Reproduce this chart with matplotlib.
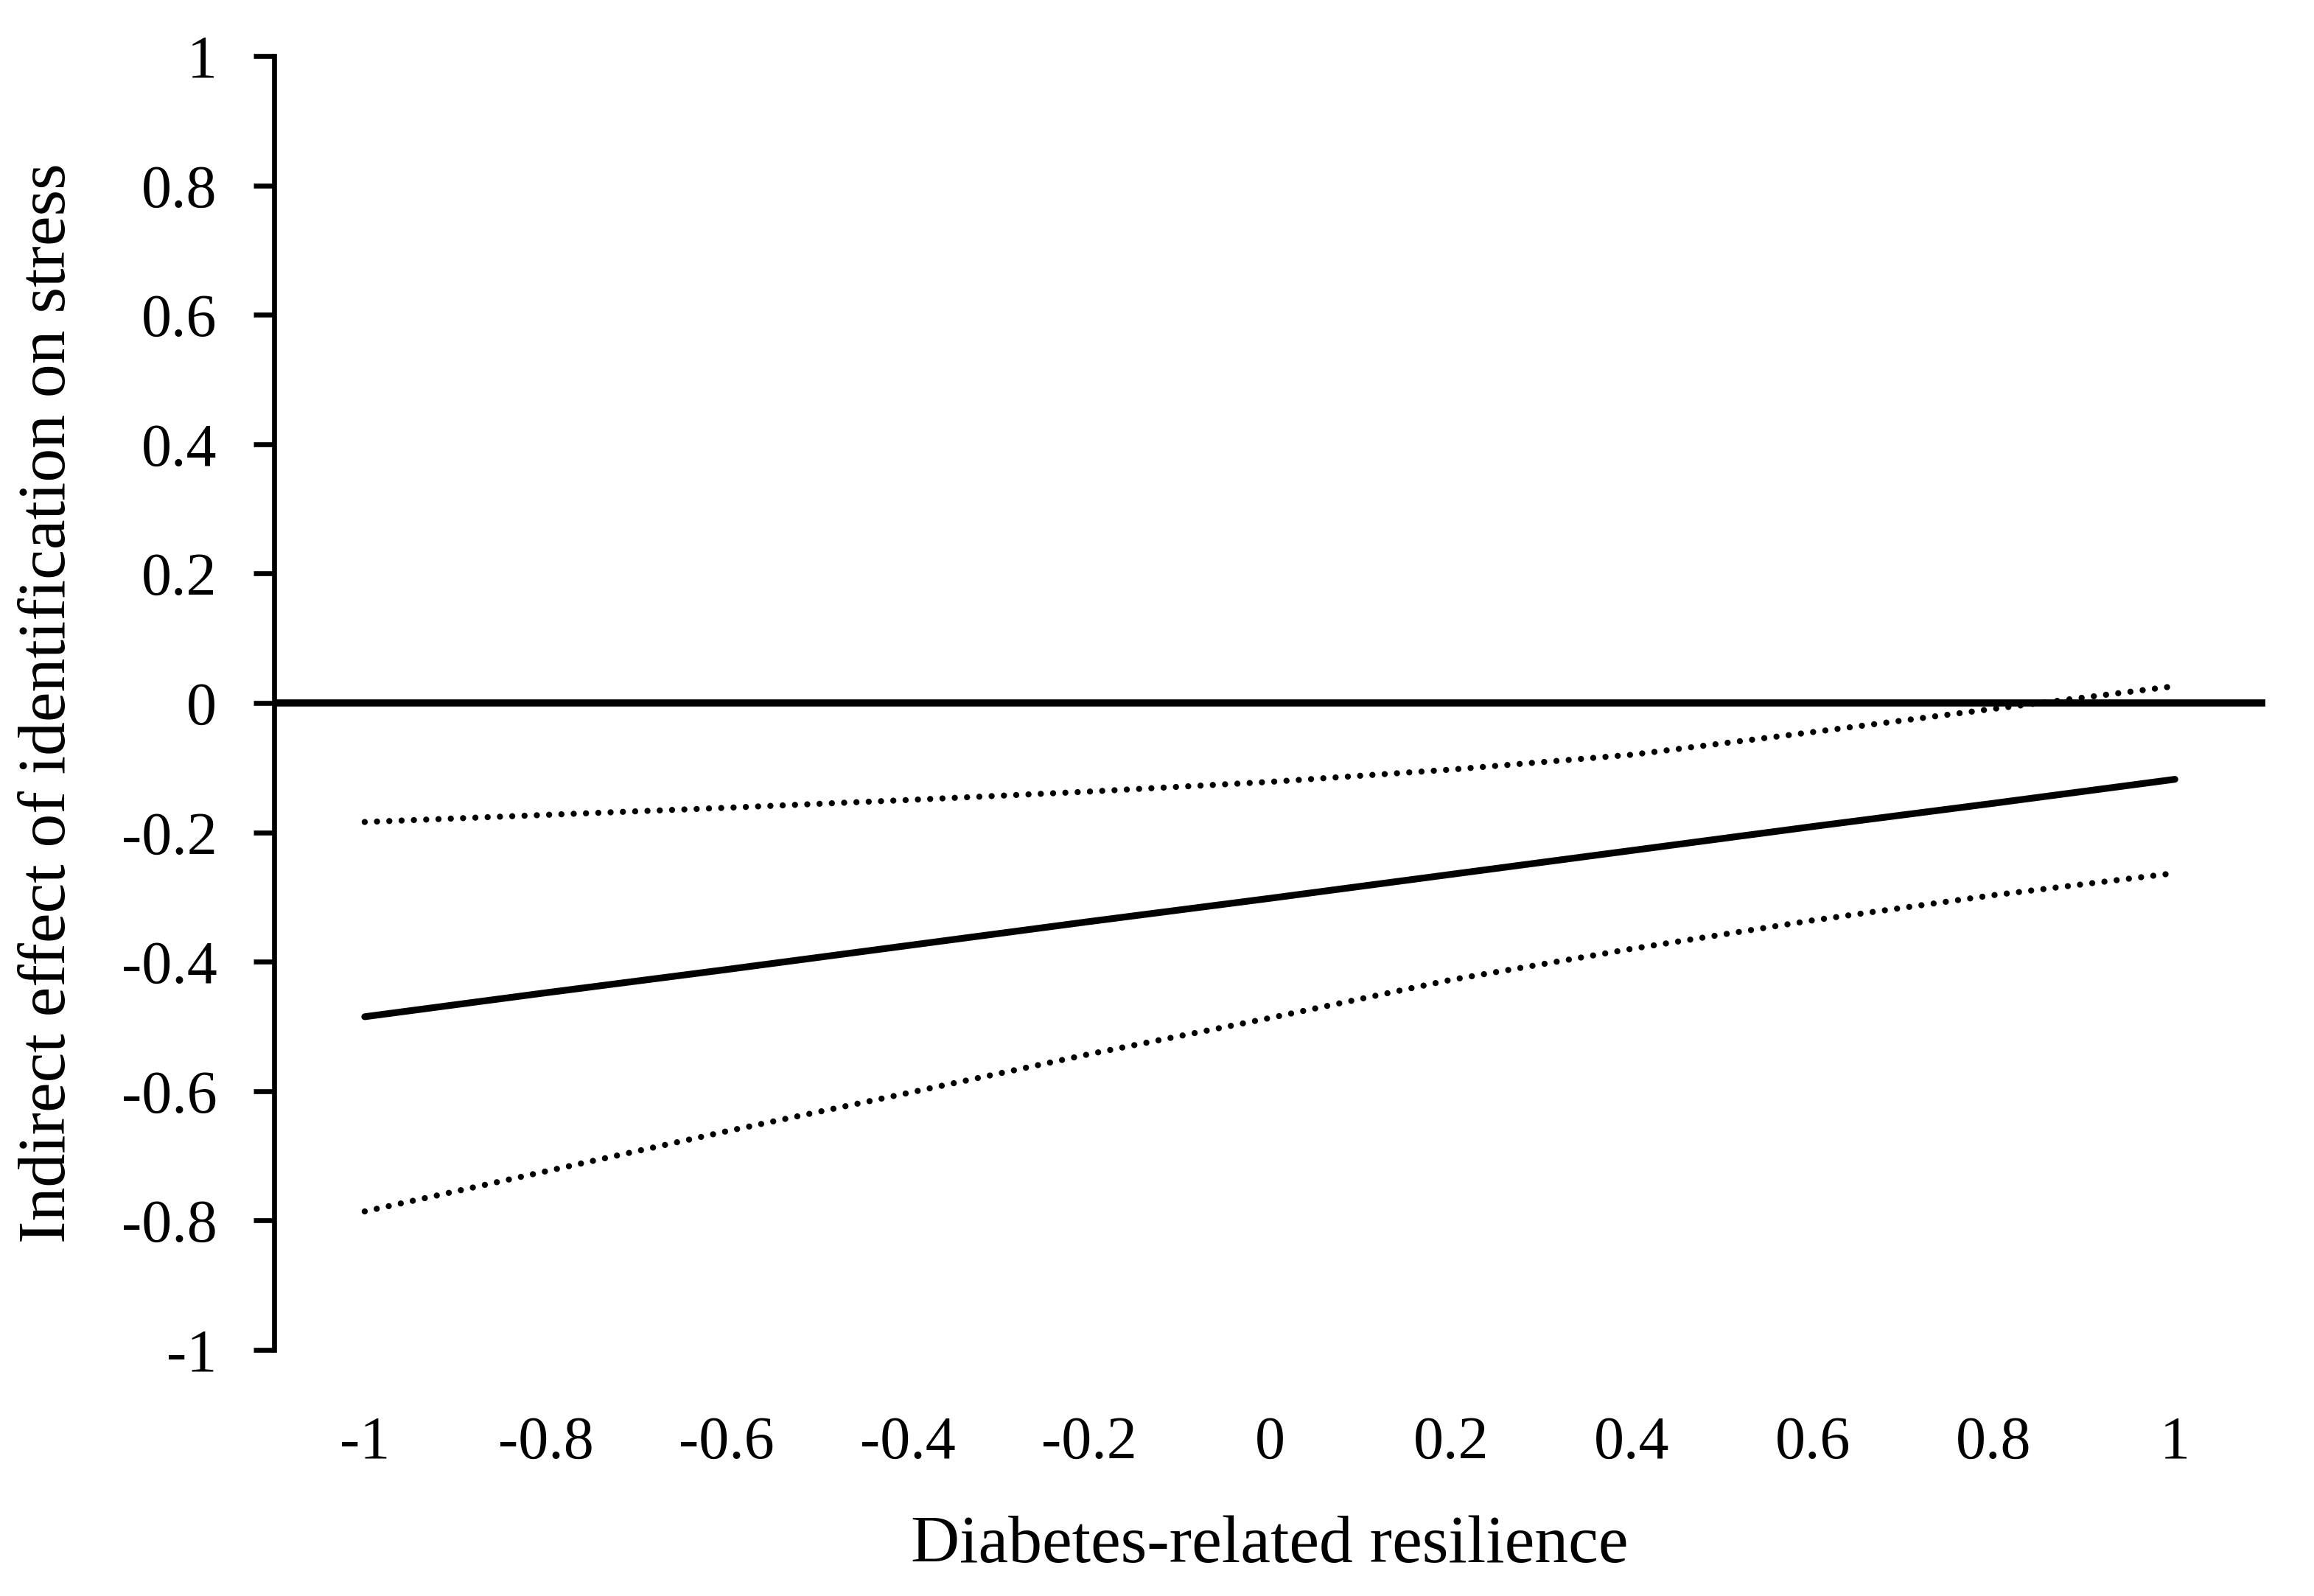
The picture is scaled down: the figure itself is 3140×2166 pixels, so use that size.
import numpy as np
import matplotlib
matplotlib.use('Agg')
import matplotlib.pyplot as plt

# data
resilience = [-1, -0.8, -0.6, -0.4, -0.2, 0, 0.2, 0.4, 0.6, 0.8, 1]
effect = [-0.485, -0.448, -0.412, -0.375, -0.338, -0.302, -0.265, -0.228, -0.191, -0.155, -0.118]
ci_upper = [-0.184, -0.173, -0.162, -0.150, -0.137, -0.122, -0.103, -0.080, -0.045, -0.009, 0.026]
ci_lower = [-0.786, -0.724, -0.662, -0.603, -0.543, -0.487, -0.428, -0.380, -0.336, -0.297, -0.263]

x_ticks = [-1, -0.8, -0.6, -0.4, -0.2, 0, 0.2, 0.4, 0.6, 0.8, 1]
y_ticks = [-1, -0.8, -0.6, -0.4, -0.2, 0, 0.2, 0.4, 0.6, 0.8, 1]

def fmt(v):
    return '0' if v == 0 else ('%g' % v)

plt.rcParams['font.family'] = ['Liberation Serif', 'DejaVu Serif']
plt.rcParams['lines.scale_dashes'] = False

fig = plt.figure(figsize=(15.7, 10.83), dpi=200)
ax = fig.add_axes([0.1185, 0.1542, 0.8605, 0.8107])

# zero reference line
ax.axhline(0, color='black', linewidth=3.5, zorder=2)

ax.plot(resilience, effect, color='black', linewidth=3.3,
        solid_capstyle='round', zorder=3)
for band in (ci_upper, ci_lower):
    ax.plot(resilience, band, color='black', linewidth=3.0,
            linestyle=(0, (0.01, 6.0)), dash_capstyle='round', zorder=3)

ax.set_xlim(-1.1, 1.1)
ax.set_ylim(-1, 1)

for side in ['top', 'right', 'bottom']:
    ax.spines[side].set_visible(False)
ax.spines['left'].set_linewidth(2.4)

ax.set_yticks(y_ticks)
ax.set_yticklabels([fmt(v) for v in y_ticks])
ax.set_xticks(x_ticks)
ax.set_xticklabels([fmt(v) for v in x_ticks])

ax.tick_params(axis='y', direction='out', length=10, width=2.4,
               labelsize=29.5, pad=18)
ax.tick_params(axis='x', length=0, labelsize=29.5, pad=32)

ax.set_xlabel('Diabetes-related resilience', fontsize=33)
ax.set_ylabel('Indirect effect of identification on stress', fontsize=33)
ax.xaxis.set_label_coords(0.5, -0.128)
ax.yaxis.set_label_coords(-0.098, 0.5)

fig.savefig('out.png', dpi=200, facecolor='white')
